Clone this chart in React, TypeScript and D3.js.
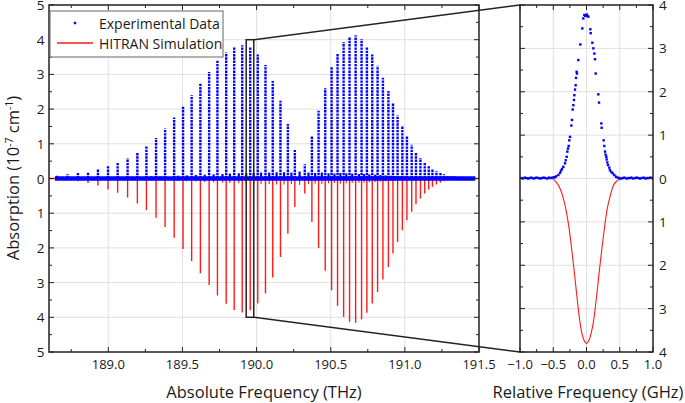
import React from 'react';
import * as d3 from 'd3';

// P-like branch (first envelope)
const pFreq = [188.654,188.725,188.795,188.863,188.930,188.998,189.063,189.130,189.196,189.257,189.322,189.383,189.444,189.504,189.562,189.621,189.680,189.736,189.795,189.849,189.903,189.957,190.008,190.060,190.109,190.161,190.211,190.258];
const pExpt = [0.10,0.12,0.16,0.19,0.26,0.35,0.45,0.58,0.74,0.93,1.17,1.44,1.76,2.08,2.40,2.76,3.07,3.39,3.63,3.78,3.84,3.80,3.57,3.27,2.81,2.24,1.57,0.82];
const pSim = [0.03,0.05,0.08,0.13,0.20,0.32,0.41,0.55,0.72,0.91,1.13,1.40,1.71,2.03,2.38,2.73,3.07,3.37,3.61,3.79,3.86,3.80,3.60,3.31,2.85,2.26,1.59,0.82];

// R-like branch (second envelope)
const rFreq = [190.325,190.373,190.418,190.463,190.506,190.546,190.587,190.627,190.668,190.708,190.744,190.780,190.816,190.852,190.889,190.920,190.951,190.983,191.014,191.046,191.075,191.105,191.134,191.161,191.186,191.213,191.240,191.264,191.289,191.314,191.338,191.363,191.388,191.412,191.436,191.460];
const rExpt = [0.41,1.21,1.95,2.60,3.22,3.62,3.93,4.06,4.13,4.01,3.79,3.57,3.25,2.90,2.52,2.16,1.82,1.52,1.23,0.97,0.74,0.59,0.45,0.36,0.29,0.21,0.16,0.12,0.09,0.07,0.06,0.05,0.04,0.04,0.03,0.03];
const rSim = [0.43,1.25,2.00,2.66,3.22,3.67,3.99,4.13,4.16,4.06,3.87,3.60,3.27,2.91,2.55,2.16,1.83,1.49,1.20,0.96,0.74,0.58,0.43,0.32,0.24,0.17,0.12,0.08,0.05,0.04,0.03,0.02,0.02,0.01,0.01,0.01];

// weak (hot-band) lines
const wFreq = [189.10,189.16,189.29,189.35,189.47,189.53,189.59,189.65,189.71,189.77,189.82,189.88,189.93,189.98,190.03,190.085,190.135,190.185,190.235,190.29,190.35,190.395,190.44,190.485,190.525,190.565,190.605,190.645,190.69,190.725,190.76,190.80,190.835,190.87,190.905,190.935,190.967,191.0,191.03];
const wExpt = [0.04,0.05,0.06,0.06,0.08,0.09,0.10,0.11,0.12,0.13,0.14,0.15,0.15,0.16,0.17,0.17,0.18,0.18,0.17,0.20,0.17,0.16,0.17,0.15,0.14,0.16,0.15,0.14,0.13,0.13,0.12,0.11,0.10,0.09,0.08,0.07,0.06,0.05,0.04];
const wSim = [0.03,0.04,0.05,0.06,0.07,0.08,0.09,0.10,0.11,0.12,0.13,0.14,0.14,0.15,0.16,0.16,0.17,0.17,0.16,0.19,0.16,0.15,0.16,0.14,0.13,0.15,0.14,0.13,0.12,0.12,0.11,0.10,0.09,0.08,0.07,0.06,0.05,0.04,0.03];

// Zoomed line
const zoomBox = { f0: 189.930, f1: 189.981, a0: -4, a1: 4 };

// inset experimental points (GHz, absorption)
const insetX = [-0.98,-0.955,-0.93,-0.905,-0.88,-0.855,-0.83,-0.8,-0.775,-0.75,-0.72,-0.695,-0.67,-0.645,-0.62,-0.59,-0.565,-0.54,-0.515,-0.49,-0.47,
  -0.458,-0.423,-0.398,-0.383,-0.368,-0.348,-0.323,-0.313,-0.298,-0.288,-0.278,-0.268,-0.258,-0.248,-0.228,-0.218,-0.208,-0.198,-0.188,-0.183,-0.173,-0.163,-0.158,-0.148,-0.143,-0.123,-0.093,-0.063,-0.048,-0.033,-0.018,-0.008,0.003,0.013,0.028,
  0.058,0.063,0.088,0.103,0.118,0.128,0.138,0.178,0.188,0.223,0.228,0.258,0.268,0.278,0.288,0.298,0.303,0.313,0.323,0.343,0.353,0.373,0.393,0.418,0.443,
  0.47,0.495,0.52,0.545,0.57,0.6,0.625,0.65,0.675,0.7,0.73,0.755,0.78,0.805,0.83,0.86,0.885,0.91,0.935,0.96,0.985];
const insetY = [0.01,0.0,0.02,0.01,0.0,0.01,0.02,0.0,0.01,0.02,0.01,0.0,0.01,0.02,0.01,0.0,0.02,0.01,0.02,0.03,0.03,
  0.05,0.08,0.13,0.18,0.22,0.27,0.35,0.42,0.50,0.62,0.69,0.75,0.88,0.96,1.22,1.35,1.59,1.69,1.81,1.92,2.05,2.15,2.32,2.46,2.42,2.73,3.09,3.46,3.69,3.77,3.75,3.75,3.78,3.75,3.73,
  3.44,3.35,3.13,3.00,2.88,2.75,2.42,1.94,1.75,1.27,1.17,0.88,0.75,0.62,0.55,0.50,0.44,0.37,0.31,0.25,0.19,0.15,0.12,0.08,0.04,
  0.02,0.01,0.0,0.01,0.02,0.0,0.01,0.01,0.02,0.0,0.01,0.02,0.01,0.0,0.01,0.02,0.0,0.01,0.01,0.02,0.01];

// inset simulated profile (GHz, absorption depth)
const simX = [-1.0,-0.524,-0.459,-0.398,-0.348,-0.298,-0.258,-0.218,-0.178,-0.138,-0.098,-0.058,-0.023,0.0,0.028,0.068,0.108,0.148,0.188,0.228,0.268,0.308,0.358,0.408,0.463,0.53,1.0];
const simY = [0,0,0.08,0.23,0.46,0.81,1.19,1.69,2.23,2.81,3.31,3.64,3.77,3.80,3.76,3.58,3.27,2.77,2.20,1.66,1.16,0.73,0.39,0.15,0.05,0,0];

const mainXTicks = [189.0,189.5,190.0,190.5,191.0,191.5];
const mainXMinor = [188.75,189.25,189.75,190.25,190.75,191.25];
const mainYTicks = [-5,-4,-3,-2,-1,0,1,2,3,4,5];
const insetXTicks = [-1.0,-0.5,0.0,0.5,1.0];
const insetXMinor = [-0.75,-0.25,0.25,0.75];
const insetYTicks = [-4,-3,-2,-1,0,1,2,3,4];

const FONT = "'Open Sans', 'DejaVu Sans', sans-serif";
const BLUE = '#0000ff';
const RED = '#ff1a1a';
const TXT = '#1a1a1a';

export default function App() {
  const mx = d3.scaleLinear().domain([188.6, 191.5]).range([49, 479]);
  const my = d3.scaleLinear().domain([-5, 5]).range([352, 5]);
  const ix = d3.scaleLinear().domain([-1, 1]).range([520, 653]);
  const iy = d3.scaleLinear().domain([-4, 4]).range([352, 5]);

  const allFreq = [...pFreq, ...rFreq];
  const allExpt = [...pExpt, ...rExpt];
  const allSim = [...pSim, ...rSim];

  const simLine = d3.line<number>()
    .x((_, i) => ix(simX[i]))
    .y((d) => iy(-d))
    .curve(d3.curveMonotoneX);

  const fmt1 = d3.format('.1f');
  const [L, R, T, B] = [49, 479, 5, 352];
  const [IL, IR] = [520, 653];

  return (
    <svg width={685} height={403} style={{ position: 'absolute', left: 0, top: 0, background: '#fff' }} fontFamily={FONT}>
      <defs>
        <clipPath id="mainClip"><rect x={L} y={T} width={R - L} height={B - T} /></clipPath>
        <clipPath id="insetClip"><rect x={IL} y={T} width={IR - IL} height={B - T} /></clipPath>
      </defs>
      {/* main grid */}
      <g stroke="#e0e0e0" strokeWidth={1}>
        {mainXTicks.filter(t => t < 191.5).map(t => <line key={'gx' + t} x1={mx(t)} x2={mx(t)} y1={T} y2={B} />)}
        {mainYTicks.filter(t => Math.abs(t) < 5).map(t => <line key={'gy' + t} x1={L} x2={R} y1={my(t)} y2={my(t)} />)}
      </g>
      {/* inset grid */}
      <g stroke="#e0e0e0" strokeWidth={1}>
        {insetXTicks.filter(t => Math.abs(t) < 1).map(t => <line key={'igx' + t} x1={ix(t)} x2={ix(t)} y1={T} y2={B} />)}
        {insetYTicks.filter(t => Math.abs(t) < 4).map(t => <line key={'igy' + t} x1={IL} x2={IR} y1={iy(t)} y2={iy(t)} />)}
      </g>

      <g clipPath="url(#mainClip)">
        {/* simulation (inverted) */}
        <line x1={L} x2={R} y1={my(0)} y2={my(0)} stroke={RED} strokeWidth={1.3} />
        {allFreq.map((f, i) => (
          <line key={'s' + i} x1={mx(f)} x2={mx(f)} y1={my(0)} y2={my(-allSim[i])} stroke={RED} strokeWidth={1.4} />
        ))}
        {wFreq.map((f, i) => (
          <line key={'ws' + i} x1={mx(f)} x2={mx(f)} y1={my(0)} y2={my(-wSim[i])} stroke={RED} strokeWidth={1.1} />
        ))}
        {/* experimental */}
        <line x1={mx(188.64)} x2={mx(191.475)} y1={my(0)} y2={my(0)} stroke={BLUE} strokeWidth={4.5} />
        {wFreq.map((f, i) => (
          <line key={'we' + i} x1={mx(f)} x2={mx(f)} y1={my(0)} y2={my(wExpt[i])} stroke={BLUE} strokeWidth={2.2} />
        ))}
        {allFreq.map((f, i) => (
          <line key={'e' + i} x1={mx(f)} x2={mx(f)} y1={my(0)} y2={my(allExpt[i])} stroke={BLUE} strokeWidth={2.4} strokeDasharray="2.4 0.9" />
        ))}
      </g>

      {/* main frame + ticks */}
      <rect x={L} y={T} width={R - L} height={B - T} fill="none" stroke="#222" strokeWidth={1.5} />
      <g stroke="#222" strokeWidth={1}>
        {mainXTicks.map(t => (
          <g key={'xt' + t}>
            <line x1={mx(t)} x2={mx(t)} y1={B} y2={B - 5} />
            <line x1={mx(t)} x2={mx(t)} y1={T} y2={T + 5} />
          </g>
        ))}
        {mainXMinor.map(t => (
          <g key={'xm' + t}>
            <line x1={mx(t)} x2={mx(t)} y1={B} y2={B - 3} />
            <line x1={mx(t)} x2={mx(t)} y1={T} y2={T + 3} />
          </g>
        ))}
        {mainYTicks.map(t => (
          <g key={'yt' + t}>
            <line x1={L} x2={L + 5} y1={my(t)} y2={my(t)} />
            <line x1={R} x2={R - 5} y1={my(t)} y2={my(t)} />
          </g>
        ))}
        {mainYTicks.slice(0, -1).map(t => (
          <g key={'ym' + t}>
            <line x1={L} x2={L + 3} y1={my(t + 0.5)} y2={my(t + 0.5)} />
            <line x1={R} x2={R - 3} y1={my(t + 0.5)} y2={my(t + 0.5)} />
          </g>
        ))}
      </g>
      <g fontSize={13} fill={TXT} textAnchor="middle">
        {mainXTicks.map(t => <text key={'xl' + t} x={mx(t)} y={368.5}>{fmt1(t)}</text>)}
      </g>
      <g fontSize={13.5} fill={TXT} textAnchor="end">
        {mainYTicks.map(t => <text key={'yl' + t} x={44.5} y={my(t) + 5}>{Math.abs(t)}</text>)}
      </g>

      {/* inset data */}
      <g clipPath="url(#insetClip)">
        <path d={simLine(simY) || ''} fill="none" stroke={RED} strokeWidth={1.1} />
        {insetX.map((x, i) => (
          <rect key={'ip' + i} x={ix(x) - 1.2} y={iy(insetY[i]) - 1.2} width={2.4} height={2.4} fill={BLUE} />
        ))}
      </g>
      <rect x={IL} y={T} width={IR - IL} height={B - T} fill="none" stroke="#222" strokeWidth={1.5} />
      <g stroke="#222" strokeWidth={1}>
        {insetXTicks.map(t => (
          <g key={'ixt' + t}>
            <line x1={ix(t)} x2={ix(t)} y1={B} y2={B - 5} />
            <line x1={ix(t)} x2={ix(t)} y1={T} y2={T + 5} />
          </g>
        ))}
        {insetXMinor.map(t => (
          <g key={'ixm' + t}>
            <line x1={ix(t)} x2={ix(t)} y1={B} y2={B - 3} />
            <line x1={ix(t)} x2={ix(t)} y1={T} y2={T + 3} />
          </g>
        ))}
        {insetYTicks.map(t => (
          <g key={'iyt' + t}>
            <line x1={IR} x2={IR - 5} y1={iy(t)} y2={iy(t)} />
            <line x1={IL} x2={IL + 5} y1={iy(t)} y2={iy(t)} />
          </g>
        ))}
        {insetYTicks.slice(0, -1).map(t => (
          <g key={'iym' + t}>
            <line x1={IR} x2={IR - 3} y1={iy(t + 0.5)} y2={iy(t + 0.5)} />
            <line x1={IL} x2={IL + 3} y1={iy(t + 0.5)} y2={iy(t + 0.5)} />
          </g>
        ))}
      </g>
      <g fontSize={13} fill={TXT} textAnchor="middle">
        {insetXTicks.map(t => <text key={'ixl' + t} x={ix(t)} y={368.5}>{fmt1(t)}</text>)}
      </g>
      <g fontSize={13.5} fill={TXT} textAnchor="start">
        {insetYTicks.map(t => <text key={'iyl' + t} x={659} y={iy(t) + 5}>{Math.abs(t)}</text>)}
      </g>

      {/* zoom box and connectors */}
      <g stroke="#222" strokeWidth={1.5} fill="none">
        <rect x={mx(zoomBox.f0)} y={my(zoomBox.a1)} width={mx(zoomBox.f1) - mx(zoomBox.f0)} height={my(zoomBox.a0) - my(zoomBox.a1)} />
        <line x1={mx(zoomBox.f1)} y1={my(zoomBox.a1)} x2={ix(-1)} y2={iy(4)} />
        <line x1={mx(zoomBox.f1)} y1={my(zoomBox.a0)} x2={ix(-1)} y2={iy(-4)} />
      </g>

      {/* legend */}
      <g>
        <rect x={50} y={11} width={173} height={46} fill="#fff" stroke="#666" strokeWidth={1} />
        <rect x={73.8} y={21.8} width={2.4} height={2.4} fill={BLUE} />
        <line x1={57} x2={93} y1={43} y2={43} stroke={RED} strokeWidth={1.3} />
        <text x={99} y={28.5} fontSize={14} fill={TXT}>Experimental Data</text>
        <text x={99} y={48.5} fontSize={14} fill={TXT}>HITRAN Simulation</text>
      </g>

      {/* axis titles */}
      <text x={264} y={397.5} fontSize={16.5} fill={TXT} textAnchor="middle">Absolute Frequency (THz)</text>
      <text x={588} y={397.5} fontSize={16.5} fill={TXT} textAnchor="middle">Relative Frequency (GHz)</text>
      <text transform="translate(19,178) rotate(-90)" fontSize={16.5} fill={TXT} textAnchor="middle">
        Absorption (10<tspan dy={-6} fontSize={10.5}>-7</tspan><tspan dy={6}> cm</tspan><tspan dy={-6} fontSize={10.5}>-1</tspan><tspan dy={6}>)</tspan>
      </text>
    </svg>
  );
}
